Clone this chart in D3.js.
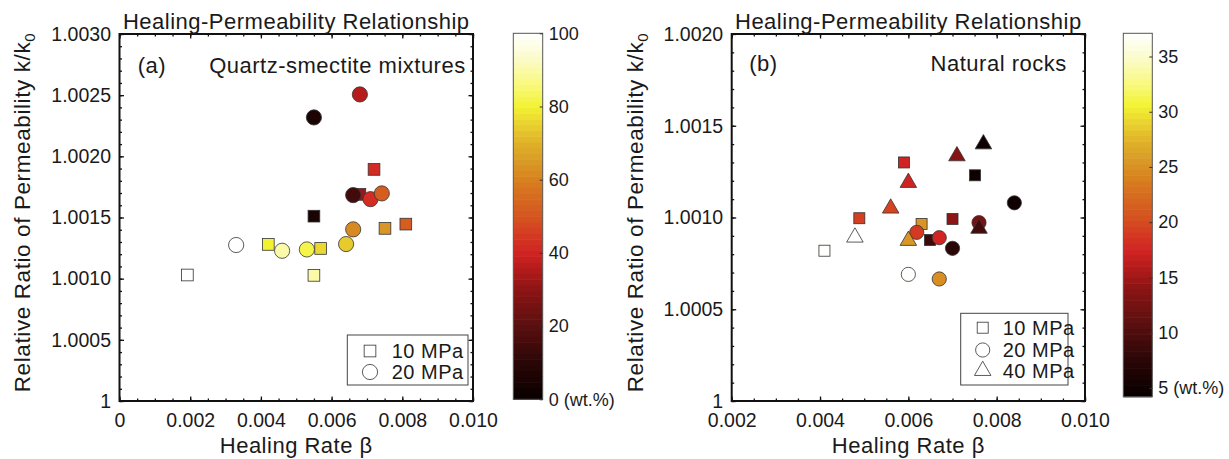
<!DOCTYPE html>
<html><head><meta charset="utf-8">
<script src="https://cdn.jsdelivr.net/npm/d3@7/dist/d3.min.js"></script>
<style>
body{margin:0;background:#fff;}
svg text{font-family:"Liberation Sans",Arial,Helvetica,sans-serif;fill:#1a1a1a;}
</style></head><body>
<svg id="chart" width="1229" height="459"></svg>
<script>
// ---------- DATA ----------
// Panel (a): quartz-smectite mixtures
const aBeta     = [0.00192,0.00421,0.00550,0.00550,0.00569,0.00680,0.00720,0.00751,0.00810,
                   0.00330,0.00460,0.00530,0.00550,0.00641,0.00661,0.00661,0.00680,0.00710,0.00742];
const aRatio    = [1.001030,1.001280,1.001027,1.001511,1.001247,1.001689,1.001893,1.001411,1.001446,
                   1.001275,1.001228,1.001239,1.002318,1.001283,1.001403,1.001683,1.002506,1.001650,1.001697];
const aSmectite = [100,80,90,5,76,32,42,64,52,
                   100,90,82,6,74,62,15,36,42,52];
const aPressure = [10,10,10,10,10,10,10,10,10,
                   20,20,20,20,20,20,20,20,20,20];
// Panel (b): natural rocks
const bBeta     = [0.00410,0.00489,0.00590,0.00630,0.00649,0.00700,0.00751,
                   0.00600,0.00619,0.00670,0.00670,0.00700,0.00760,0.00840,
                   0.00479,0.00560,0.00600,0.00600,0.00710,0.00760,0.00770];
const bRatio    = [1.000819,1.000996,1.001300,1.000965,1.000877,1.000992,1.001230,
                   1.000690,1.000919,1.000890,1.000665,1.000832,1.000972,1.001080,
                   1.000892,1.001050,1.001190,1.000874,1.001335,1.000940,1.001400];
const bClay     = [37,19.3,17.4,25.3,8.8,14.1,5,
                   37,19,17.5,24.8,7.5,12.8,5,
                   37,19.6,17.4,25.3,13.7,9.2,4.9];
const bPressure = [10,10,10,10,10,10,10,
                   20,20,20,20,20,20,20,
                   40,40,40,40,40,40,40];

// ticks
const aXTicks = [0,0.002,0.004,0.006,0.008,0.010];
const aXTickLabels = ["0","0.002","0.004","0.006","0.008","0.010"];
const aYTicks = [1,1.0005,1.0010,1.0015,1.0020,1.0025,1.0030];
const aYTickLabels = ["1","1.0005","1.0010","1.0015","1.0020","1.0025","1.0030"];
const bXTicks = [0.002,0.004,0.006,0.008,0.010];
const bXTickLabels = ["0.002","0.004","0.006","0.008","0.010"];
const bYTicks = [1,1.0005,1.0010,1.0015,1.0020];
const bYTickLabels = ["1","1.0005","1.0010","1.0015","1.0020"];
const aCbarTicks = [0,20,40,60,80,100];
const aCbarLabels = ["0 (wt.%)","20","40","60","80","100"];
const bCbarTicks = [5,10,15,20,25,30,35];
const bCbarLabels = ["5 (wt.%)","10","15","20","25","30","35"];

// colormap (hot-like) stops in percent
const cmapPos = [0,10,20,30,35,40,45,50,55,60,65,70,75,80,85,92,100];
const cmapCol = ["#080000","#2a0606","#5a0f0f","#8c1515","#b01a1a","#d02323","#d43a22","#d55520",
                 "#d66a20","#d8801f","#d99a26","#e0b028","#e8d030","#f2f232","#f8f870","#fbfbc0","#ffffff"];
const cmap = d3.scaleLinear().domain(cmapPos).range(cmapCol).interpolate(d3.interpolateRgb).clamp(true);

const svg = d3.select("#chart");
const FONT = '"Liberation Sans",Arial,Helvetica,sans-serif';

const panels = [
  {x0:119.5,x1:473,y0:34,y1:401, xd:[0,0.010], yd:[1,1.003],
   xt:aXTicks, xl:aXTickLabels, yt:aYTicks, yl:aYTickLabels, xminor:0.0005, yminor:0.0001,
   beta:aBeta, ratio:aRatio, val:aSmectite, pres:aPressure, cd:[0,100],
   cbar:{x0:513.3,x1:542.7,y0:33.3,y1:399.3, t:aCbarTicks, l:aCbarLabels},
   tag:"(a)", tagX:137.7, name:"Quartz-smectite mixtures", nameX:465.7, textY:73,
   ylabX:30, sq:11.7, ci:15.2, tri:16,
   legend:{x0:347.3,x1:468,y0:335,y1:385, mx:370, tx:391.7, rows:[[10,351],[20,372]]}},
  {x0:731.7,x1:1085,y0:34,y1:401, xd:[0.002,0.010], yd:[1,1.002],
   xt:bXTicks, xl:bXTickLabels, yt:bYTicks, yl:bYTickLabels, xminor:0.0005, yminor:0.0001,
   beta:bBeta, ratio:bRatio, val:bClay, pres:bPressure, cd:[4.2,37.1],
   cbar:{x0:1123.3,x1:1152.3,y0:33.3,y1:396.7, t:bCbarTicks, l:bCbarLabels},
   tag:"(b)", tagX:749.3, name:"Natural rocks", nameX:1066.7, textY:71,
   ylabX:643, sq:11, ci:14.2, tri:16.5,
   legend:{x0:960.7,x1:1068,y0:313.3,y1:385, mx:982.7, tx:1002.7, rows:[[10,327.7],[20,350],[40,370.7]]}}
];

function marker(g, type, cx, cy, p, fill){
  if(type===10){
    g.append("rect").attr("x",cx-p.sq/2).attr("y",cy-p.sq/2).attr("width",p.sq).attr("height",p.sq)
      .attr("fill",fill).attr("stroke","#333").attr("stroke-width",0.8);
  } else if(type===20){
    g.append("circle").attr("cx",cx).attr("cy",cy).attr("r",p.ci/2)
      .attr("fill",fill).attr("stroke","#333").attr("stroke-width",0.8);
  } else {
    const s=p.tri, h=s*Math.sqrt(3)/2;
    g.append("path").attr("d",`M${cx},${cy-h*2/3}L${cx+s/2},${cy+h/3}L${cx-s/2},${cy+h/3}Z`)
      .attr("fill",fill).attr("stroke","#333").attr("stroke-width",0.8);
  }
}

panels.forEach(p=>{
  const x = d3.scaleLinear().domain(p.xd).range([p.x0,p.x1]);
  const y = d3.scaleLinear().domain(p.yd).range([p.y1,p.y0]);
  const g = svg.append("g");
  const xMinor = d3.range(p.xd[0], p.xd[1]+1e-9, p.xminor);
  const yMinor = d3.range(p.yd[0], p.yd[1]+1e-9, p.yminor);

  // axes with inward ticks on four sides
  const tickStyle = s => s.call(a=>a.select(".domain").remove())
     .call(a=>a.selectAll(".tick line").attr("stroke","#111").attr("stroke-width",1.3));
  // bottom
  g.append("g").attr("transform",`translate(0,${p.y1})`)
    .call(d3.axisBottom(x).tickValues(xMinor).tickFormat("").tickSize(-2.5)).call(tickStyle);
  g.append("g").attr("transform",`translate(0,${p.y1})`)
    .call(d3.axisBottom(x).tickValues(p.xt).tickFormat((d,i)=>p.xl[i]).tickSize(-4.5).tickPadding(12.5))
    .call(tickStyle)
    .call(a=>a.selectAll("text").attr("font-size",19.5).attr("font-family",FONT).attr("fill","#1a1a1a"));
  // top
  g.append("g").attr("transform",`translate(0,${p.y0})`)
    .call(d3.axisTop(x).tickValues(xMinor).tickFormat("").tickSize(-2.5)).call(tickStyle);
  g.append("g").attr("transform",`translate(0,${p.y0})`)
    .call(d3.axisTop(x).tickValues(p.xt).tickFormat("").tickSize(-4.5)).call(tickStyle);
  // left
  g.append("g").attr("transform",`translate(${p.x0},0)`)
    .call(d3.axisLeft(y).tickValues(yMinor).tickFormat("").tickSize(-2.5)).call(tickStyle);
  g.append("g").attr("transform",`translate(${p.x0},0)`)
    .call(d3.axisLeft(y).tickValues(p.yt).tickFormat((d,i)=>p.yl[i]).tickSize(-4.5).tickPadding(8.5))
    .call(tickStyle)
    .call(a=>a.selectAll("text").attr("font-size",19.5).attr("font-family",FONT).attr("fill","#1a1a1a"));
  // right
  g.append("g").attr("transform",`translate(${p.x1},0)`)
    .call(d3.axisRight(y).tickValues(yMinor).tickFormat("").tickSize(-2.5)).call(tickStyle);
  g.append("g").attr("transform",`translate(${p.x1},0)`)
    .call(d3.axisRight(y).tickValues(p.yt).tickFormat("").tickSize(-4.5)).call(tickStyle);

  // box
  g.append("rect").attr("x",p.x0).attr("y",p.y0).attr("width",p.x1-p.x0).attr("height",p.y1-p.y0)
    .attr("fill","none").attr("stroke","#111").attr("stroke-width",2);

  // color scale
  const cval = d3.scaleLinear().domain(p.cd).range([0,100]);

  // markers: squares, then circles, then triangles
  const mg = g.append("g");
  [10,20,40].forEach(pr=>{
    p.beta.forEach((b,i)=>{
      if(p.pres[i]!==pr) return;
      marker(mg, pr, x(b), y(p.ratio[i]), p, cmap(cval(p.val[i])));
    });
  });

  // texts
  const cx = (p.x0+p.x1)/2;
  g.append("text").attr("x",cx).attr("y",29).attr("text-anchor","middle")
    .attr("font-size",22).attr("letter-spacing",0.5).text("Healing-Permeability Relationship");
  g.append("text").attr("x",p.tagX).attr("y",p.textY).attr("font-size",22).attr("letter-spacing",0.5).text(p.tag);
  g.append("text").attr("x",p.nameX).attr("y",p.textY).attr("text-anchor","end")
    .attr("font-size",22).attr("letter-spacing",0.5).text(p.name);
  g.append("text").attr("x",cx).attr("y",453).attr("text-anchor","middle")
    .attr("font-size",22).attr("letter-spacing",0.5).text("Healing Rate β");
  const yl = g.append("text").attr("transform",`translate(${p.ylabX},${(p.y0+p.y1)/2-5}) rotate(-90)`)
    .attr("text-anchor","middle").attr("font-size",22.5).attr("letter-spacing",0.6);
  yl.append("tspan").text("Relative Ratio of Permeability k/k");
  yl.append("tspan").attr("font-size",15).attr("dy",5).text("0");

  // legend
  const L = p.legend;
  g.append("rect").attr("x",L.x0).attr("y",L.y0).attr("width",L.x1-L.x0).attr("height",L.y1-L.y0)
    .attr("fill","#fff").attr("stroke","#444").attr("stroke-width",1);
  L.rows.forEach(r=>{
    marker(g, r[0], L.mx, r[1], p, "#fff");
    g.append("text").attr("x",L.tx).attr("y",r[1]).attr("dy","0.35em").attr("font-size",20)
      .attr("letter-spacing",0.5).text(r[0]+" MPa");
  });

  // colorbar
  const C = p.cbar;
  const cy = d3.scaleLinear().domain(p.cd).range([C.y1,C.y0]);
  const nb = 64;
  const bands = d3.range(nb);
  const cg = g.append("g");
  cg.selectAll("rect").data(bands).join("rect")
    .attr("x",C.x0).attr("width",C.x1-C.x0)
    .attr("y",d=>C.y1-(d+1)*(C.y1-C.y0)/nb).attr("height",(C.y1-C.y0)/nb+0.6)
    .attr("fill",d=>cmap((d+0.5)/nb*100));
  cg.append("rect").attr("x",C.x0).attr("y",C.y0).attr("width",C.x1-C.x0).attr("height",C.y1-C.y0)
    .attr("fill","none").attr("stroke","#555").attr("stroke-width",1);
  cg.append("g").attr("transform",`translate(${C.x1},0)`)
    .call(d3.axisRight(cy).tickValues(C.t).tickFormat((d,i)=>C.l[i]).tickSize(-3).tickPadding(6))
    .call(a=>a.select(".domain").remove())
    .call(a=>a.selectAll(".tick line").attr("stroke","#333"))
    .call(a=>a.selectAll("text").attr("font-size",18).attr("font-family",FONT).attr("fill","#1a1a1a"));
});
</script>
</body></html>
